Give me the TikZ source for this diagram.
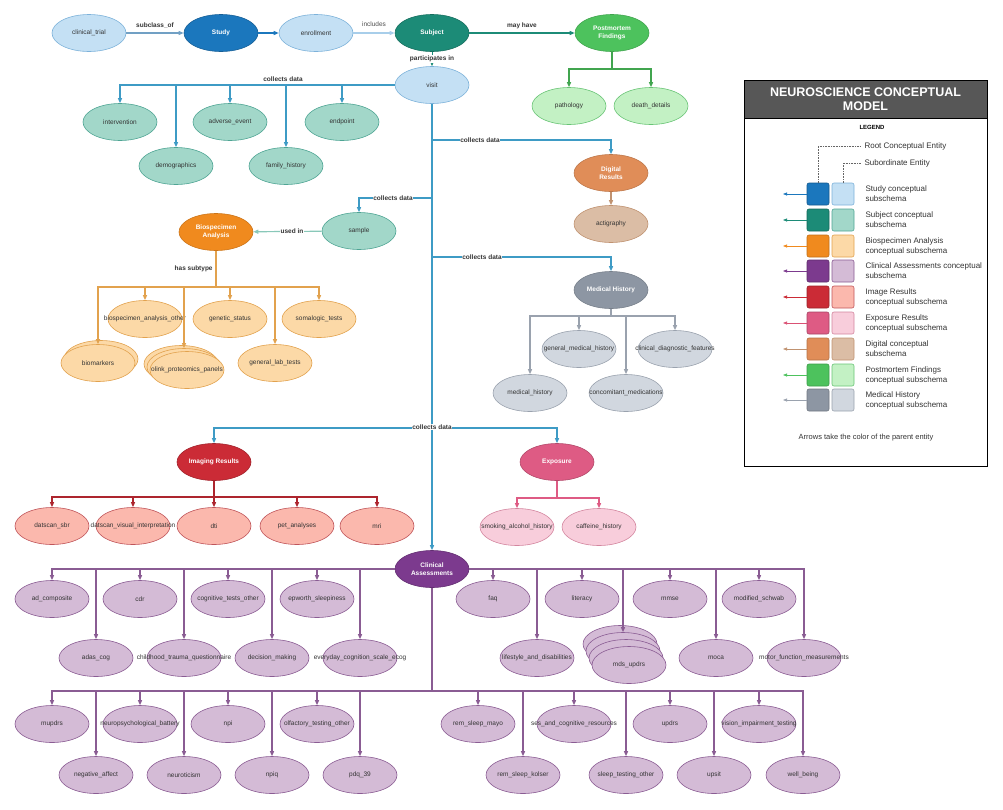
\documentclass[tikz,border=0pt]{standalone}
\usepackage{fontspec}
\setmainfont{Liberation Sans}
\usetikzlibrary{shapes.geometric,arrows.meta}
\definecolor{stuD}{HTML}{1B77BD}
\definecolor{stuL}{HTML}{C4E0F4}
\definecolor{stuB}{HTML}{7DB2DA}
\definecolor{sbjD}{HTML}{1C8B77}
\definecolor{sbjL}{HTML}{A2D7C9}
\definecolor{sbjB}{HTML}{4FA594}
\definecolor{bioD}{HTML}{F08A1E}
\definecolor{bioL}{HTML}{FCD9A7}
\definecolor{bioB}{HTML}{E2A24E}
\definecolor{cliD}{HTML}{7C3A8E}
\definecolor{cliL}{HTML}{D4BBD6}
\definecolor{cliB}{HTML}{8A5C93}
\definecolor{imgD}{HTML}{CB2B36}
\definecolor{imgL}{HTML}{FBB8AD}
\definecolor{imgB}{HTML}{C0555A}
\definecolor{expD}{HTML}{DE5B84}
\definecolor{expL}{HTML}{F8CDDB}
\definecolor{expB}{HTML}{D3869F}
\definecolor{digD}{HTML}{E08D58}
\definecolor{digL}{HTML}{DBBDA5}
\definecolor{digB}{HTML}{C09270}
\definecolor{pmD}{HTML}{4DC25D}
\definecolor{pmL}{HTML}{C3F1C4}
\definecolor{pmB}{HTML}{69C476}
\definecolor{mhD}{HTML}{8D96A3}
\definecolor{mhL}{HTML}{D1D7DF}
\definecolor{mhB}{HTML}{9AA2AE}
\definecolor{trunk}{HTML}{3E9BC5}
\definecolor{ttl}{HTML}{575757}
\newcommand{\tx}[1]{\makebox[0pt]{#1}}
\begin{document}
\begin{tikzpicture}[x=1pt, y=-1pt, font=\fontsize{6.5}{7.5}\selectfont,
  main/.style={ellipse, draw, line width=0.6pt, minimum width=74pt, minimum height=37pt, inner sep=0pt, text=black!80},
  root/.style={main, text=white, font=\fontsize{6.5}{7.5}\selectfont\bfseries, align=center},
  stu/.style={root, fill=stuD, draw=stuD!80!black}, stuS/.style={main, fill=stuL, draw=stuB},
  sbj/.style={root, fill=sbjD, draw=sbjD!80!black}, sbjS/.style={main, fill=sbjL, draw=sbjB},
  bio/.style={root, fill=bioD, draw=bioD!85!black}, bioS/.style={main, fill=bioL, draw=bioB},
  cli/.style={root, fill=cliD, draw=cliD!80!black}, cliS/.style={main, fill=cliL, draw=cliB},
  img/.style={root, fill=imgD, draw=imgD!80!black}, imgS/.style={main, fill=imgL, draw=imgB},
  expo/.style={root, fill=expD, draw=expD!80!black}, expoS/.style={main, fill=expL, draw=expB},
  dig/.style={root, fill=digD, draw=digD!85!black}, digS/.style={main, fill=digL, draw=digB},
  pm/.style={root, fill=pmD, draw=pmD!85!black}, pmS/.style={main, fill=pmL, draw=pmB},
  mh/.style={root, fill=mhD, draw=mhD!85!black}, mhS/.style={main, fill=mhL, draw=mhB},
  con/.style={line width=1.2pt, -{Triangle[length=5pt,width=4pt]}},
  bus/.style={line width=1.2pt},
  lbl/.style={fill=white, inner sep=0.8pt, font=\fontsize{6.5}{7.5}\selectfont\bfseries, text=black!80},
  sq/.style={draw, rounded corners=2pt, minimum width=22pt, minimum height=22pt, inner sep=0pt, line width=0.6pt},
  lar/.style={line width=0.7pt, -{Triangle[length=4pt,width=3pt]}},
  ltxt/.style={anchor=west, align=left, font=\fontsize{8}{10}\selectfont, text=black!80}]
\useasboundingbox (0,0) rectangle (1003,809);
\node[stuS] (ct) at (89,33) {\tx{clinical\_trial}};
\node[stu] (study) at (221,33) {Study};
\node[stuS] (enrol) at (316,33) {\tx{enrollment}};
\node[sbj] (subj) at (432,33) {Subject};
\node[pm] (pmf) at (612,33) {Postmortem\\Findings};
\node[pmS] (patho) at (569,106) {\tx{pathology}};
\node[pmS] (death) at (651,106) {\tx{death\_details}};
\node[stuS] (visit) at (432,85) {\tx{visit}};
\node[sbjS] (interv) at (120,122) {\tx{intervention}};
\node[sbjS] (demo) at (176,166) {\tx{demographics}};
\node[sbjS] (adv) at (230,122) {\tx{adverse\_event}};
\node[sbjS] (famh) at (286,166) {\tx{family\_history}};
\node[sbjS] (endp) at (342,122) {\tx{endpoint}};
\node[dig] (digi) at (611,173) {Digital\\Results};
\node[digS] (acti) at (611,224) {\tx{actigraphy}};
\node[sbjS] (sample) at (359,231) {\tx{sample}};
\node[bio] (bioa) at (216,232) {Biospecimen\\Analysis};
\node[bioS] (bmk2) at (101,359) {};
\node[bioS] (bmk) at (98,363) {\tx{biomarkers}};
\node[bioS] (bao) at (145,319) {\tx{biospecimen\_analysis\_other}};
\node[bioS] (olink3) at (181,364) {};
\node[bioS] (olink2) at (184,367) {};
\node[bioS] (olink) at (187,370) {\tx{olink\_proteomics\_panels}};
\node[bioS] (gen) at (230,319) {\tx{genetic\_status}};
\node[bioS] (glab) at (275,363) {\tx{general\_lab\_tests}};
\node[bioS] (soma) at (319,319) {\tx{somalogic\_tests}};
\node[mh] (mhist) at (611,290) {Medical History};
\node[mhS] (medh) at (530,393) {\tx{medical\_history}};
\node[mhS] (gmh) at (579,349) {\tx{general\_medical\_history}};
\node[mhS] (conmed) at (626,393) {\tx{concomitant\_medications}};
\node[mhS] (cdf) at (675,349) {\tx{clinical\_diagnostic\_features}};
\node[img] (imr) at (214,462) {Imaging Results};
\node[imgS] (dsbr) at (52,526) {\tx{datscan\_sbr}};
\node[imgS] (dvis) at (133,526) {\tx{datscan\_visual\_interpretation}};
\node[imgS] (dti) at (214,526) {\tx{dti}};
\node[imgS] (pet) at (297,526) {\tx{pet\_analyses}};
\node[imgS] (mri) at (377,526) {\tx{mri}};
\node[expo] (expr) at (557,462) {Exposure};
\node[expoS] (smok) at (517,527) {\tx{smoking\_alcohol\_history}};
\node[expoS] (caff) at (599,527) {\tx{caffeine\_history}};
\node[cli] (clin) at (432,569) {Clinical\\Assessments};
\node[cliS] (adc) at (52,599) {\tx{ad\_composite}};
\node[cliS] (cdr) at (140,599) {\tx{cdr}};
\node[cliS] (cto) at (228,599) {\tx{cognitive\_tests\_other}};
\node[cliS] (eps) at (317,599) {\tx{epworth\_sleepiness}};
\node[cliS] (adas) at (96,658) {\tx{adas\_cog}};
\node[cliS] (ctq) at (184,658) {\tx{childhood\_trauma\_questionnaire}};
\node[cliS] (dmk) at (272,658) {\tx{decision\_making}};
\node[cliS] (ecog) at (360,658) {\tx{everyday\_cognition\_scale\_ecog}};
\node[cliS] (faq) at (493,599) {\tx{faq}};
\node[cliS] (lit) at (582,599) {\tx{literacy}};
\node[cliS] (mmse) at (670,599) {\tx{mmse}};
\node[cliS] (msch) at (759,599) {\tx{modified\_schwab}};
\node[cliS] (life) at (537,658) {\tx{lifestyle\_and\_disabilities}};
\node[cliS] (mds3) at (620,644) {};
\node[cliS] (mds2) at (623,651) {};
\node[cliS] (mds1) at (626,658) {};
\node[cliS] (mds) at (629,665) {\tx{mds\_updrs}};
\node[cliS] (moca) at (716,658) {\tx{moca}};
\node[cliS] (motor) at (804,658) {\tx{motor\_function\_measurements}};
\node[cliS] (mupdrs) at (52,724) {\tx{mupdrs}};
\node[cliS] (npb) at (140,724) {\tx{neuropsychological\_battery}};
\node[cliS] (npi) at (228,724) {\tx{npi}};
\node[cliS] (olf) at (317,724) {\tx{olfactory\_testing\_other}};
\node[cliS] (negaf) at (96,775) {\tx{negative\_affect}};
\node[cliS] (neur) at (184,775) {\tx{neuroticism}};
\node[cliS] (npiq) at (272,775) {\tx{npiq}};
\node[cliS] (pdq) at (360,775) {\tx{pdq\_39}};
\node[cliS] (rsm) at (478,724) {\tx{rem\_sleep\_mayo}};
\node[cliS] (ses) at (574,724) {\tx{ses\_and\_cognitive\_resources}};
\node[cliS] (updrs) at (670,724) {\tx{updrs}};
\node[cliS] (vis) at (759,724) {\tx{vision\_impairment\_testing}};
\node[cliS] (rsk) at (523,775) {\tx{rem\_sleep\_kolser}};
\node[cliS] (sto) at (626,775) {\tx{sleep\_testing\_other}};
\node[cliS] (upsit) at (714,775) {\tx{upsit}};
\node[cliS] (well) at (803,775) {\tx{well\_being}};
\coordinate (pmb) at (612,69);
\coordinate (b1) at (432,140);
\coordinate (b2) at (432,198);
\coordinate (b3) at (432,257);
\coordinate (b4) at (432,428);
\coordinate (biob) at (216,287);
\coordinate (mhb) at (611,316);
\coordinate (imb) at (214,497);
\coordinate (exb) at (557,498);
\coordinate (clb) at (432,691);
\draw[con, draw=stuB!90!black] (ct) -- node[lbl, fill=none, above=3pt] {subclass\_of} (study);
\draw[con, draw=stuD, line width=1.6pt] (study) -- (enrol);
\draw[con, draw=stuL!60!stuB] (enrol) -- node[above=3pt, text=black!70] {includes} (subj);
\draw[con, draw=sbjD] (subj) -- node[lbl, fill=none, above=3pt] {may have} (pmf);
\draw[con, draw=sbjD, line width=0.6pt] (subj) -- (visit);
\draw[bus, draw=pmD!85!black] (pmf) -- (pmb);
\draw[con, draw=pmD!85!black] (pmb) -| (patho);
\draw[con, draw=pmD!85!black] (pmb) -| (death);
\draw[con, draw=trunk] (visit.west) -| (interv);
\draw[con, draw=trunk] (visit.west) -| (demo);
\draw[con, draw=trunk] (visit.west) -| (adv);
\draw[con, draw=trunk] (visit.west) -| (famh);
\draw[con, draw=trunk] (visit.west) -| (endp);
\draw[con, draw=trunk] (visit) -- (clin);
\draw[con, draw=trunk] (b1) -| (digi);
\draw[con, draw=digB] (digi) -- (acti);
\draw[con, draw=trunk] (b2) -| (sample);
\draw[con, draw=sbjL!70!sbjB] (sample) -- (bioa);
\draw[bus, draw=bioB] (bioa) -- node[lbl, fill=none, left=2pt] {has subtype} (biob);
\draw[con, draw=bioB] (biob) -| (bmk);
\draw[con, draw=bioB] (biob) -| (bao);
\draw[con, draw=bioB] (biob) -| (olink2);
\draw[con, draw=bioB] (biob) -| (gen);
\draw[con, draw=bioB] (biob) -| (glab);
\draw[con, draw=bioB] (biob) -| (soma);
\draw[con, draw=trunk] (b3) -| (mhist);
\draw[bus, draw=mhB] (mhist) -- (mhb);
\draw[con, draw=mhB] (mhb) -| (medh);
\draw[con, draw=mhB] (mhb) -| (gmh);
\draw[con, draw=mhB] (mhb) -| (conmed);
\draw[con, draw=mhB] (mhb) -| (cdf);
\draw[con, draw=trunk] (b4) -| (imr);
\draw[con, draw=trunk] (b4) -| (expr);
\draw[bus, draw=imgD!85!black] (imr) -- (imb);
\draw[con, draw=imgD!85!black] (imb) -| (dsbr);
\draw[con, draw=imgD!85!black] (imb) -| (dvis);
\draw[con, draw=imgD!85!black] (imb) -| (dti);
\draw[con, draw=imgD!85!black] (imb) -| (pet);
\draw[con, draw=imgD!85!black] (imb) -| (mri);
\draw[bus, draw=expD] (expr) -- (exb);
\draw[con, draw=expD] (exb) -| (smok);
\draw[con, draw=expD] (exb) -| (caff);
\draw[con, draw=cliB] (clin.west) -| (adc);
\draw[con, draw=cliB] (clin.west) -| (cdr);
\draw[con, draw=cliB] (clin.west) -| (cto);
\draw[con, draw=cliB] (clin.west) -| (eps);
\draw[con, draw=cliB] (clin.west) -| (adas);
\draw[con, draw=cliB] (clin.west) -| (ctq);
\draw[con, draw=cliB] (clin.west) -| (dmk);
\draw[con, draw=cliB] (clin.west) -| (ecog);
\draw[con, draw=cliB] (clin.east) -| (faq);
\draw[con, draw=cliB] (clin.east) -| (lit);
\draw[con, draw=cliB] (clin.east) -| (mmse);
\draw[con, draw=cliB] (clin.east) -| (msch);
\draw[con, draw=cliB] (clin.east) -| (life);
\draw[con, draw=cliB] (clin.east) -| (mds2);
\draw[con, draw=cliB] (clin.east) -| (moca);
\draw[con, draw=cliB] (clin.east) -| (motor);
\draw[bus, draw=cliB] (clin) -- (clb);
\draw[con, draw=cliB] (clb) -| (mupdrs);
\draw[con, draw=cliB] (clb) -| (npb);
\draw[con, draw=cliB] (clb) -| (npi);
\draw[con, draw=cliB] (clb) -| (olf);
\draw[con, draw=cliB] (clb) -| (negaf);
\draw[con, draw=cliB] (clb) -| (neur);
\draw[con, draw=cliB] (clb) -| (npiq);
\draw[con, draw=cliB] (clb) -| (pdq);
\draw[con, draw=cliB] (clb) -| (rsm);
\draw[con, draw=cliB] (clb) -| (ses);
\draw[con, draw=cliB] (clb) -| (updrs);
\draw[con, draw=cliB] (clb) -| (vis);
\draw[con, draw=cliB] (clb) -| (rsk);
\draw[con, draw=cliB] (clb) -| (sto);
\draw[con, draw=cliB] (clb) -| (upsit);
\draw[con, draw=cliB] (clb) -| (well);
\node[lbl] at (432,59) {participates in};
\node[lbl, fill=none] at (283,79) {collects data};
\node[lbl] at (480,140) {collects data};
\node[lbl] at (393,198) {collects data};
\node[lbl] at (292,231) {used in};
\node[lbl] at (482,257) {collects data};
\node[lbl] at (432,427) {collects data};
\draw[line width=0.8pt] (744,118) rectangle (987,466);
\node[draw=black, line width=1pt, fill=ttl, minimum width=243pt, minimum height=38pt, text=white, align=center, font=\fontsize{12.5}{14}\selectfont\bfseries] (title) at (865.5,99) {NEUROSCIENCE CONCEPTUAL\\MODEL};
\node[font=\fontsize{6}{7}\selectfont\bfseries] (legend) at (872,127) {LEGEND};
\node[sq, fill=stuD, draw=stuD!75!black] (r1) at (818,194) {};
\node[sq, fill=stuL, draw=stuB] (s1) at (843,194) {};
\node[sq, fill=sbjD, draw=sbjD!75!black] (r2) at (818,220) {};
\node[sq, fill=sbjL, draw=sbjB] (s2) at (843,220) {};
\node[sq, fill=bioD, draw=bioD!80!black] (r3) at (818,246) {};
\node[sq, fill=bioL, draw=bioB] (s3) at (843,246) {};
\node[sq, fill=cliD, draw=cliD!75!black] (r4) at (818,271) {};
\node[sq, fill=cliL, draw=cliB] (s4) at (843,271) {};
\node[sq, fill=imgD, draw=imgD!75!black] (r5) at (818,297) {};
\node[sq, fill=imgL, draw=imgB] (s5) at (843,297) {};
\node[sq, fill=expD, draw=expD!75!black] (r6) at (818,323) {};
\node[sq, fill=expL, draw=expB] (s6) at (843,323) {};
\node[sq, fill=digD, draw=digD!80!black] (r7) at (818,349) {};
\node[sq, fill=digL, draw=digB] (s7) at (843,349) {};
\node[sq, fill=pmD, draw=pmD!80!black] (r8) at (818,375) {};
\node[sq, fill=pmL, draw=pmB] (s8) at (843,375) {};
\node[sq, fill=mhD, draw=mhD!80!black] (r9) at (818,400) {};
\node[sq, fill=mhL, draw=mhB] (s9) at (843,400) {};
\node[ltxt] (t1) at (862,194) {Study conceptual\\subschema};
\node[ltxt] (t2) at (862,220) {Subject conceptual\\subschema};
\node[ltxt] (t3) at (862,246) {Biospecimen Analysis\\conceptual subschema};
\node[ltxt] (t4) at (862,271) {Clinical Assessments conceptual\\subschema};
\node[ltxt] (t5) at (862,297) {Image Results\\conceptual subschema};
\node[ltxt] (t6) at (862,323) {Exposure Results\\conceptual subschema};
\node[ltxt] (t7) at (862,349) {Digital conceptual\\subschema};
\node[ltxt] (t8) at (862,375) {Postmortem Findings\\conceptual subschema};
\node[ltxt] (t9) at (862,400) {Medical History\\conceptual subschema};
\node[ltxt] (rootl) at (861,146) {Root Conceptual Entity};
\node[ltxt] (subl) at (861,163) {Subordinate Entity};
\draw[densely dotted, line width=0.6pt, draw=black!60] (r1.north) |- (rootl.west);
\draw[densely dotted, line width=0.6pt, draw=black!60] (s1.north) |- (subl.west);
\coordinate (ax) at (783,0);
\draw[lar, draw=stuD] (r1.west) -- (r1.west -| ax);
\draw[lar, draw=sbjD] (r2.west) -- (r2.west -| ax);
\draw[lar, draw=bioD] (r3.west) -- (r3.west -| ax);
\draw[lar, draw=cliD] (r4.west) -- (r4.west -| ax);
\draw[lar, draw=imgD] (r5.west) -- (r5.west -| ax);
\draw[lar, draw=expD!80!imgD] (r6.west) -- (r6.west -| ax);
\draw[lar, draw=digB] (r7.west) -- (r7.west -| ax);
\draw[lar, draw=pmD] (r8.west) -- (r8.west -| ax);
\draw[lar, draw=mhB] (r9.west) -- (r9.west -| ax);
\node[font=\fontsize{7.5}{9}\selectfont, text=black!80] (note) at (866,438) {Arrows take the color of the parent entity};
\end{tikzpicture}
\end{document}
